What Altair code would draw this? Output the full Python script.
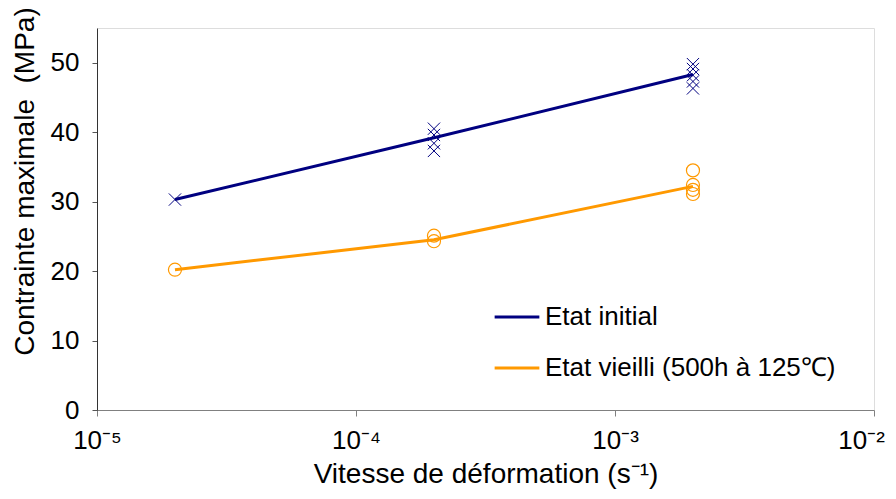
import altair as alt
import pandas as pd

# ---- data ----
series_names = ["Etat initial", "Etat vieilli (500h à 125℃)"]
series_colors = ["#000080", "#FF9900"]

rates = [2e-5, 2e-4, 2e-3]
initial_mean = [30.3, 39.2, 48.3]
aged_mean = [20.2, 24.5, 32.2]

initial_pts_x = [2e-5, 2e-4, 2e-4, 2e-4, 2e-4, 2e-3, 2e-3, 2e-3, 2e-3, 2e-3]
initial_pts_y = [30.3, 40.5, 39.6, 38.4, 37.3, 49.8, 49.1, 48.2, 47.3, 46.3]

aged_pts_x = [2e-5, 2e-4, 2e-4, 2e-3, 2e-3, 2e-3, 2e-3]
aged_pts_y = [20.2, 25.1, 24.3, 34.5, 32.4, 31.7, 31.1]

x_ticks = [1e-5, 1e-4, 1e-3, 1e-2]
y_ticks = [0, 10, 20, 30, 40, 50]

lines_df = pd.DataFrame({
    "rate": rates + rates,
    "stress": initial_mean + aged_mean,
    "serie": [series_names[0]] * len(rates) + [series_names[1]] * len(rates),
})
init_df = pd.DataFrame({"rate": initial_pts_x, "stress": initial_pts_y})
aged_df = pd.DataFrame({"rate": aged_pts_x, "stress": aged_pts_y})

FONT = "Liberation Sans"

x_enc = alt.X(
    "rate:Q",
    scale=alt.Scale(type="log", domain=[1e-5, 1e-2]),
    axis=alt.Axis(
        values=x_ticks,
        labelExpr="'10' + (datum.value < 2e-5 ? '⁻⁵' : datum.value < 2e-4 ? '⁻⁴' : datum.value < 2e-3 ? '⁻³' : '⁻²')",
        labelOffset={"condition": {"test": "datum.value > 0.005", "value": -13}, "value": 0},
        title="Vitesse de déformation (s⁻¹)",
        grid=False,
        domainColor="#808080",
        tickColor="#808080",
        tickSize=6,
        labelPadding=11,
        labelFontSize=26,
        titleFontSize=28,
        titleFontWeight="normal",
        titlePadding=7,
        labelFont=FONT,
        titleFont=FONT,
        labelColor="#000000",
        titleColor="#000000",
        labelFlush=False,
        labelOverlap=False,
    ),
)
y_enc = alt.Y(
    "stress:Q",
    scale=alt.Scale(domain=[0, 55], nice=False),
    axis=alt.Axis(
        values=y_ticks,
        title="Contrainte maximale\u00a0 (MPa)",
        titleY=153,
        grid=False,
        domainColor="#333333",
        tickColor="#555555",
        tickSize=5,
        labelPadding=13,
        labelFontSize=26,
        titleFontSize=28,
        titleFontWeight="normal",
        titlePadding=11,
        labelFont=FONT,
        titleFont=FONT,
        labelColor="#000000",
        titleColor="#000000",
    ),
)

lines = alt.Chart(lines_df).mark_line(strokeWidth=3, interpolate="linear").encode(
    x=x_enc,
    y=y_enc,
    color=alt.Color(
        "serie:N",
        scale=alt.Scale(domain=series_names, range=series_colors),
        legend=alt.Legend(
            title=None,
            orient="none",
            legendX=396,
            legendY=265,
            symbolType="stroke",
            symbolSize=2000,
            symbolStrokeWidth=3,
            labelFontSize=26,
            labelFont=FONT,
            labelColor="#000000",
            rowPadding=14,
            labelOffset=4,
            labelLimit=600,
        ),
    ),
)

x_shape = "M-1,-1L1,1M-1,1L1,-1"
crosses = alt.Chart(init_df).mark_point(
    shape=x_shape, size=150, filled=False, stroke="#000080", strokeWidth=1, opacity=1
).encode(x=x_enc, y=y_enc)

circles = alt.Chart(aged_df).mark_point(
    shape="circle", size=170, filled=False, stroke="#FF9900", strokeWidth=1.2, opacity=1
).encode(x=x_enc, y=y_enc)

chart = alt.layer(crosses, circles, lines).properties(
    width=777,
    height=382,
    autosize=alt.AutoSizeParams(type="none"),
    padding={"left": 89, "top": 20, "right": 14, "bottom": 81},
).configure_view(stroke=None).configure(background="white")

chart.save("out.html", embed_options={"renderer": "svg", "actions": False})
